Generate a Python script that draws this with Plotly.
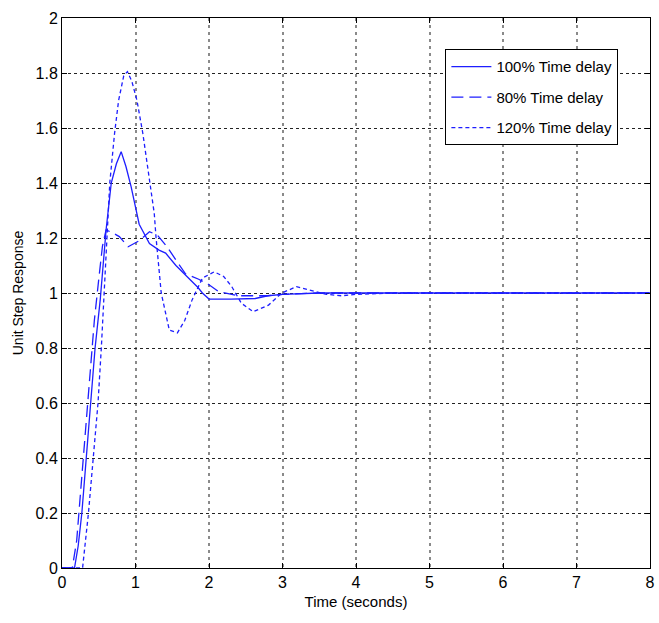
import plotly.graph_objects as go

# Step response samples for three time-delay settings
t_100 = [0, 0.17, 0.22, 0.27, 0.33, 0.39, 0.45, 0.52, 0.56, 0.60, 0.67, 0.74, 0.805, 0.87,
         0.94, 1.05, 1.19, 1.32, 1.41, 1.55, 1.70, 1.85, 1.91, 2.0, 2.3, 2.63, 2.8, 3.0,
         3.5, 4, 5, 6, 7, 8]
y_100 = [0, 0, 0.08, 0.2, 0.4, 0.6, 0.8, 0.975, 1.1, 1.23, 1.40, 1.47, 1.514, 1.46,
         1.387, 1.25, 1.18, 1.156, 1.145, 1.10, 1.06, 1.02, 1.0, 0.978, 0.978, 0.98, 0.99, 0.995,
         1.0, 1.0, 1.0, 1.0, 1.0, 1.0]

t_80 = [0, 0.14, 0.2, 0.26, 0.32, 0.38, 0.44, 0.5, 0.55, 0.6, 0.68, 0.78, 0.90, 1.05,
        1.19, 1.30, 1.43, 1.55, 1.68, 1.86, 2.0, 2.13, 2.4, 2.8, 3.0, 3.5, 4, 5, 6, 7, 8]
y_80 = [0, 0, 0.1, 0.3, 0.5, 0.7, 0.9, 1.05, 1.17, 1.229, 1.22, 1.205, 1.168, 1.19,
        1.223, 1.21, 1.168, 1.12, 1.07, 1.05, 1.03, 1.005, 0.99, 0.99, 0.995, 1.0, 1.0, 1.0, 1.0, 1.0, 1.0]

t_120 = [0, 0.28, 0.36, 0.42, 0.49, 0.535, 0.57, 0.62, 0.65, 0.715, 0.77, 0.84, 0.89, 0.95,
         1.02, 1.10, 1.19, 1.255, 1.28, 1.35, 1.46, 1.57, 1.67, 1.77, 1.91, 2.07, 2.2, 2.31,
         2.44, 2.6, 2.81, 2.99, 3.19, 3.4, 3.6, 3.8, 4.0, 4.5, 5, 6, 7, 8]
y_120 = [0, 0, 0.2, 0.4, 0.6, 0.8, 0.975, 1.23, 1.4, 1.58, 1.70, 1.79, 1.805, 1.77,
         1.70, 1.58, 1.4, 1.29, 1.2, 1.0, 0.865, 0.855, 0.90, 0.975, 1.054, 1.077, 1.06, 1.023,
         0.963, 0.932, 0.956, 1.0, 1.023, 1.01, 0.995, 0.99, 0.995, 1.0, 1.0, 1.0, 1.0, 1.0]

x_ticks = [0, 1, 2, 3, 4, 5, 6, 7, 8]
y_ticks = [0, 0.2, 0.4, 0.6, 0.8, 1, 1.2, 1.4, 1.6, 1.8, 2]
y_tick_text = ["0", "0.2", "0.4", "0.6", "0.8", "1", "1.2", "1.4", "1.6", "1.8", "2"]

blue = "rgb(30,30,255)"
fig = go.Figure()
fig.add_trace(go.Scatter(x=t_100, y=y_100, mode="lines", name="100% Time delay",
                         legendgroup="a",
                         line=dict(color=blue, width=1.3, dash="solid")))
fig.add_trace(go.Scatter(x=t_80, y=y_80, mode="lines", name="80% Time delay",
                         legendgroup="b",
                         line=dict(color=blue, width=1.3, dash="12px,6px")))
fig.add_trace(go.Scatter(x=t_120, y=y_120, mode="lines", name="120% Time delay",
                         legendgroup="c",
                         line=dict(color=blue, width=1.3, dash="4px,3px")))

narrow = "Liberation Sans Narrow, Arial Narrow, Liberation Sans, sans-serif"
regular = "Liberation Sans, Arial, sans-serif"
fig.update_layout(
    width=659, height=623,
    margin=dict(l=62, r=4, t=18, b=55),
    paper_bgcolor="white", plot_bgcolor="white",
    font=dict(family=narrow, size=16, color="black"),
    showlegend=True,
    legend=dict(x=0.652, y=0.943, xanchor="left", yanchor="top",
                bgcolor="white", bordercolor="black", borderwidth=1,
                font=dict(family=narrow, size=15, color="black"),
                tracegroupgap=8, itemwidth=40),
    xaxis=dict(range=[0, 8], tickvals=x_ticks, ticks="inside", ticklen=5,
               tickcolor="black", showline=True, linecolor="black", linewidth=1,
               mirror="ticks", showgrid=True, gridcolor="#8a8a8a", gridwidth=1.5,
               griddash="3px,4px", zeroline=False, ticklabeloverflow="allow",
               tickfont=dict(family=narrow, size=16),
               title=dict(text="Time (seconds)", font=dict(family=narrow, size=15), standoff=6)),
    yaxis=dict(range=[0, 2], tickvals=y_ticks, ticktext=y_tick_text, ticks="inside",
               ticklen=5, tickcolor="black", showline=True, linecolor="black", linewidth=1,
               mirror="ticks", showgrid=True, gridcolor="#222222", gridwidth=1,
               griddash="3px,3px", zeroline=False,
               tickfont=dict(family=narrow, size=16),
               title=dict(text="Unit Step Response", font=dict(family=regular, size=14),
                          standoff=8)),
)

fig.write_html("out.html")
